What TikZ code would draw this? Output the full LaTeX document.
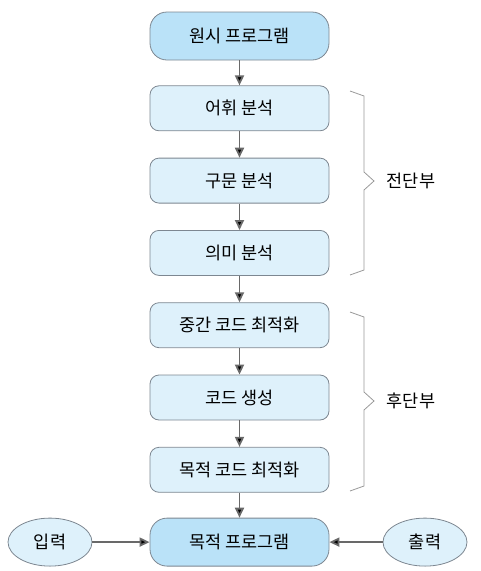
\documentclass[tikz,border=0pt]{standalone}
\usepackage{fontspec}
\setmainfont{Noto Sans CJK KR}
\usetikzlibrary{arrows.meta,positioning,shapes.geometric}
\definecolor{linegray}{RGB}{125,135,145}
\definecolor{arrowgray}{RGB}{105,105,105}
\definecolor{lightblue}{RGB}{222,241,251}
\definecolor{midblue}{RGB}{186,226,248}

\begin{document}
\begin{tikzpicture}[x=1pt,y=-1pt,node distance=72.3pt,on grid,
    phase/.style={draw=linegray,line width=0.8pt,fill=lightblue,rounded corners=9pt,
      minimum width=179pt,minimum height=45pt,font=\fontsize{17.5}{19}\selectfont},
    prog/.style={phase,fill=midblue,rounded corners=17pt,minimum height=48pt},
    io/.style={ellipse,draw=linegray,line width=0.8pt,fill=lightblue,
      minimum width=84pt,minimum height=48pt,font=\fontsize{17.5}{19}\selectfont},
    flow/.style={draw=arrowgray,line width=1.8pt,-{Triangle[length=10pt,width=9pt]}},
    bracket/.style={draw=gray!80,line width=0.8pt}]
  \useasboundingbox (0,0) rectangle (481,571);
  \node[prog] (src) at (239.5,36) {원시 프로그램};
  \node[phase] [below=of src] (lex) {어휘 분석};
  \node[phase] [below=of lex] (syn) {구문 분석};
  \node[phase] [below=of syn] (sem) {의미 분석};
  \node[phase] [below=of sem] (ico) {중간 코드 최적화};
  \node[phase] [below=of ico] (gen) {코드 생성};
  \node[phase] [below=of gen] (tco) {목적 코드 최적화};
  \node[prog] [below=of tco] (tgt) {목적 프로그램};
  \node[io] [left=189.5pt of tgt] (in) {입력};
  \node[io] [right=185.5pt of tgt] (out) {출력};
  \path[flow]
    (src) edge (lex)
    (lex) edge (syn)
    (syn) edge (sem)
    (sem) edge (ico)
    (ico) edge (gen)
    (gen) edge (tco)
    (tco) edge (tgt)
    (in) edge (tgt)
    (out) edge (tgt);
  % braces
  \draw[bracket] (350,91) -- (364,96) -- (364,172) -- (374,181) -- (364,190) -- (364,270) -- (350,275);
  \draw[bracket] (350,312) -- (364,317) -- (364,392) -- (374,401) -- (364,410) -- (364,486) -- (350,491);
  \node[font=\fontsize{17.5}{19}\selectfont] (front) at (411,181) {전단부};
  \node[font=\fontsize{17.5}{19}\selectfont] (back) at (411,401) {후단부};
\end{tikzpicture}
\end{document}
